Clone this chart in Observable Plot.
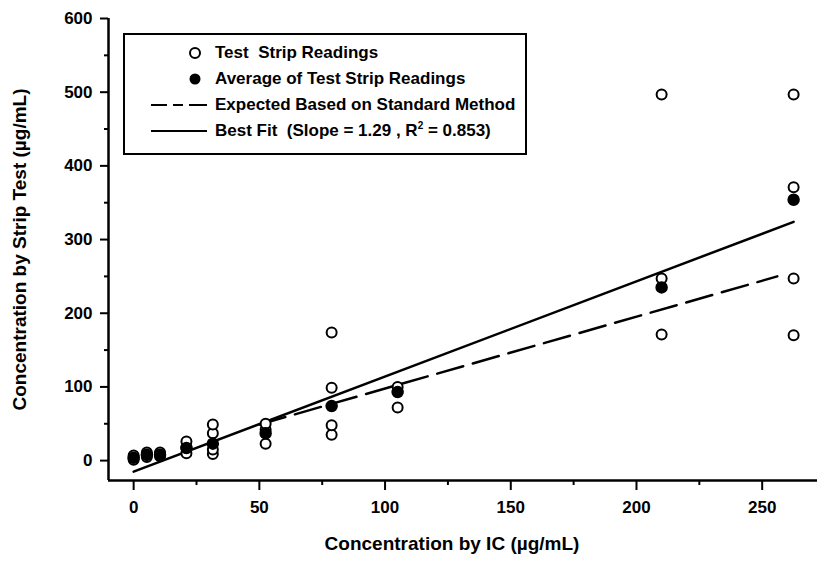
<!DOCTYPE html>
<html>
<head>
<meta charset="utf-8">
<script src="https://cdn.jsdelivr.net/npm/d3@7"></script>
<script src="https://cdn.jsdelivr.net/npm/@observablehq/plot@0.6"></script>
<style>
  html, body { margin: 0; padding: 0; background: #fff; }
  #wrap { position: relative; width: 817px; height: 565px; }
  #legend { position: absolute; left: 123px; top: 33px; height: 118px; padding-right: 10px;
    border: 2px solid #000; background: #fff; font-family: "Liberation Sans", Arial, sans-serif;
    font-weight: bold; font-size: 17px; color: #000; }
  .row { position: absolute; left: 0; height: 22px; display: flex; align-items: center; white-space: pre; }
  .row svg { flex: none; }
  .spacer { visibility: hidden; height: 0; display: flex; white-space: pre; margin-top: 0; }
  sup { font-size: 10px; line-height: 0; vertical-align: 7px; }
</style>
</head>
<body>
<div id="wrap"></div>
<script>
// ---- data ----
const concIC = [0, 5.25, 10.5, 21, 31.5, 52.5, 78.75, 105, 210, 262.5];
const stripReadings = [
  [1, 4, 7],
  [5, 8, 11],
  [6, 9, 11],
  [10, 18, 26],
  [9, 15, 37, 49],
  [23, 42, 50],
  [35, 48, 99, 174],
  [72, 100],
  [171, 247, 497],
  [170, 247, 371, 497]
];
const stripAverage = [4, 8, 8, 17, 23, 37, 74, 93, 235, 354];
const fitX = [0, 262.5];
const fitY = [-15, 324];
const expectedX = [50, 256];
const expectedY = [49, 250];
const xTicks = [0, 50, 100, 150, 200, 250];
const xMinorTicks = [25, 75, 125, 175, 225];
const yTicks = [0, 100, 200, 300, 400, 500, 600];
const yMinorTicks = [50, 150, 250, 350, 450, 550];
const xTitle = "Concentration by IC (µg/mL)";
const yTitle = "Concentration by Strip Test (µg/mL)";
const legendLabels = ["Test  Strip Readings", "Average of Test Strip Readings", "Expected Based on Standard Method", "Best Fit  (Slope = 1.29 , R<sup>2</sup> = 0.853)"];

// ---- tables ----
const readings = concIC.flatMap((c, i) => stripReadings[i].map(v => ({x: c, y: v})));
const averages = concIC.map((c, i) => ({x: c, y: stripAverage[i]}));
const fit = fitX.map((x, i) => ({x, y: fitY[i]}));
const expected = expectedX.map((x, i) => ({x, y: expectedY[i]}));

const xDomain = [-10, 272];
const yDomain = [-27, 600];

const chart = Plot.plot({
  width: 817, height: 565,
  marginLeft: 108, marginRight: 0, marginTop: 18, marginBottom: 85,
  x: {domain: xDomain},
  y: {domain: yDomain},
  style: {fontFamily: "'Liberation Sans', Arial, sans-serif", fontWeight: "bold", fontSize: "17px", background: "white", color: "black"},
  marks: [
    Plot.axisX({ticks: xTicks, tickSize: 10, tickPadding: 10, strokeWidth: 2, label: null, fontSize: 17}),
    Plot.axisX({ticks: xMinorTicks, tickSize: 5, strokeWidth: 2, tickFormat: () => "", label: null}),
    Plot.axisY({ticks: yTicks, tickSize: 8, tickPadding: 8, strokeWidth: 2, label: null, fontSize: 17}),
    Plot.axisY({ticks: yMinorTicks, tickSize: 4, strokeWidth: 2, tickFormat: () => "", label: null}),
    Plot.ruleX([xDomain[0]], {stroke: "black", strokeWidth: 2.5}),
    Plot.ruleY([yDomain[0]], {stroke: "black", strokeWidth: 2.5}),
    Plot.line(fit, {x: "x", y: "y", stroke: "black", strokeWidth: 2.5}),
    Plot.line(expected, {x: "x", y: "y", stroke: "black", strokeWidth: 2.5, strokeDasharray: "27,10"}),
    Plot.dot(readings, {x: "x", y: "y", r: 5, stroke: "black", strokeWidth: 2, fill: "white"}),
    Plot.dot(averages, {x: "x", y: "y", r: 5.5, fill: "black", stroke: "black"}),
    Plot.text([xTitle], {frameAnchor: "bottom", dy: 69, dx: -11, fontSize: 19, fontWeight: "bold"}),
    Plot.text([yTitle], {frameAnchor: "left", textAnchor: "middle", dx: -89, rotate: -90, fontSize: 19, fontWeight: "bold"})
  ]
});

const wrap = document.getElementById("wrap");
wrap.appendChild(chart);

// ---- legend overlay ----
const legend = document.createElement("div");
legend.id = "legend";
const rowCenters = [18, 44, 70, 96];
const symbols = [
  '<svg width="90" height="20"><circle cx="70" cy="10" r="5" fill="white" stroke="black" stroke-width="2"/></svg>',
  '<svg width="90" height="20"><circle cx="70" cy="10" r="5.5" fill="black"/></svg>',
  '<svg width="90" height="20"><line x1="26" x2="82" y1="10" y2="10" stroke="black" stroke-width="2" stroke-dasharray="16,6,10,6,18"/></svg>',
  '<svg width="90" height="20"><line x1="26" x2="82" y1="10" y2="10" stroke="black" stroke-width="2"/></svg>'
];
// hidden spacers give the box its width
legendLabels.forEach(lab => {
  const sp = document.createElement("div");
  sp.className = "spacer";
  sp.innerHTML = '<span style="display:inline-block;width:90px"></span><span>' + lab + '</span>';
  legend.appendChild(sp);
});
legendLabels.forEach((lab, i) => {
  const row = document.createElement("div");
  row.className = "row";
  row.style.top = (rowCenters[i] - 11) + "px";
  row.innerHTML = symbols[i] + "<span>" + lab + "</span>";
  legend.appendChild(row);
});
wrap.appendChild(legend);
</script>
</body>
</html>
